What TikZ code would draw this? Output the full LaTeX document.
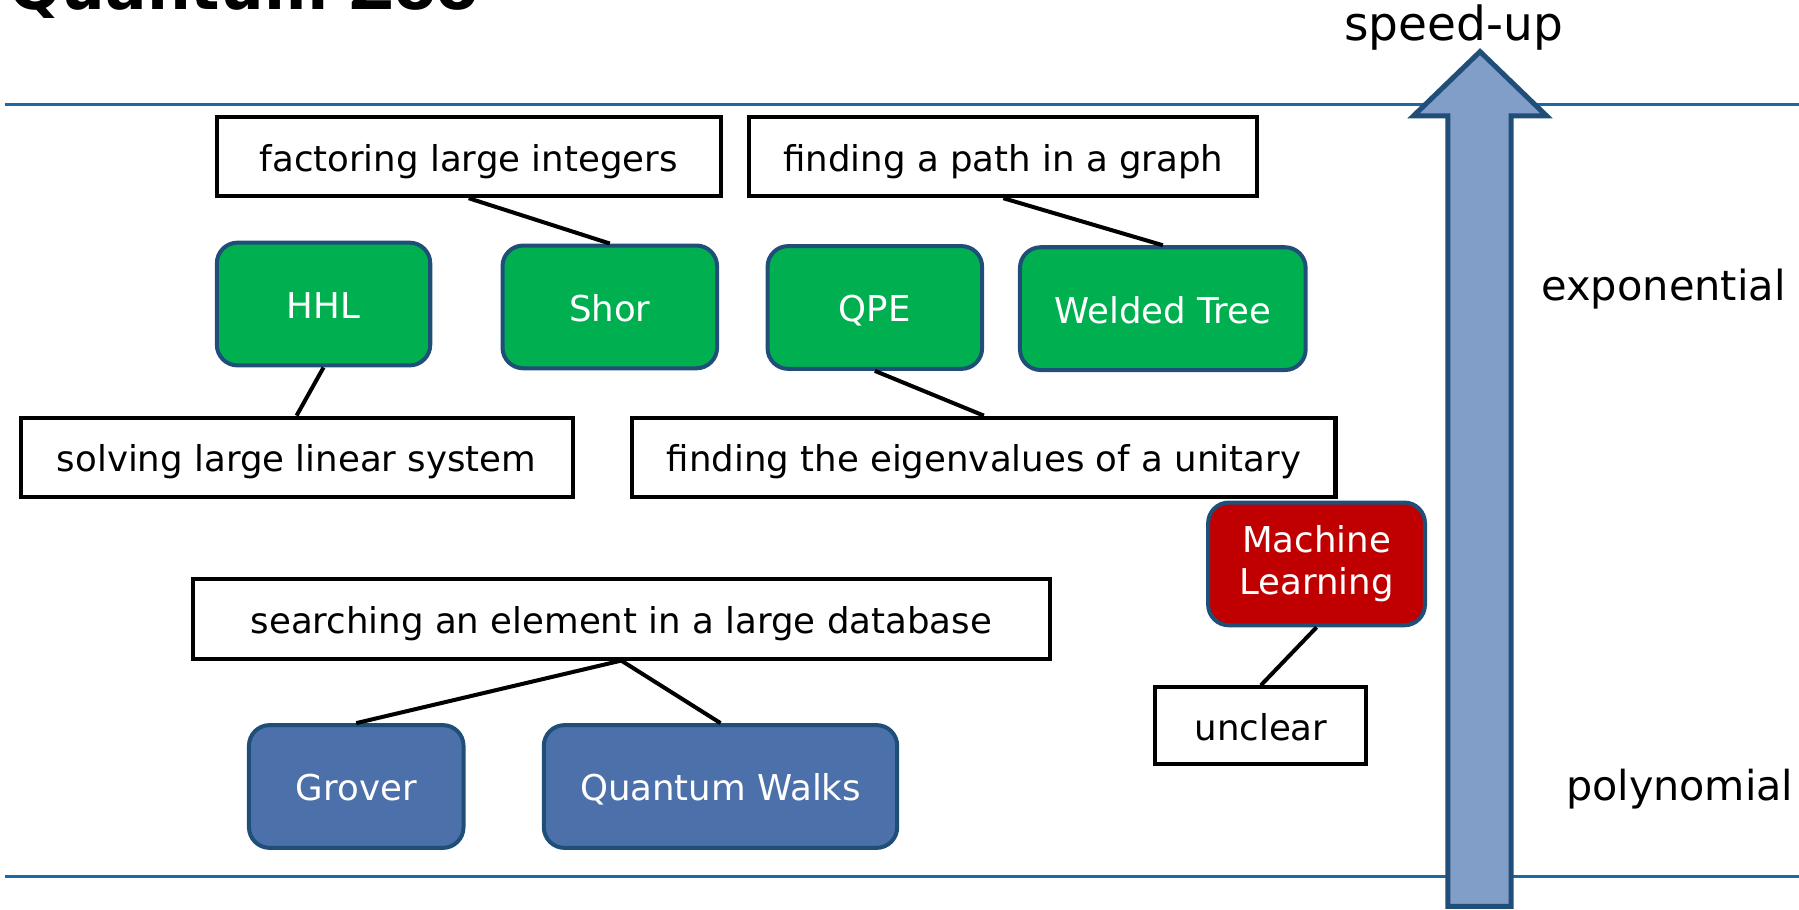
\documentclass[tikz,border=0pt]{standalone}
\usepackage{fontspec}
\setmainfont{DejaVu Sans}
\definecolor{rulecol}{RGB}{26,104,164}
\definecolor{nodeborder}{RGB}{31,78,121}
\definecolor{arrowfill}{RGB}{129,158,201}
\definecolor{greenfill}{RGB}{0,176,80}
\definecolor{bluefill}{RGB}{76,112,170}
\definecolor{redfill}{RGB}{192,0,0}
\tikzset{
  oneline/.style={text height=12.6pt, text depth=0pt},
  textbox/.style={draw=black, line width=1.75pt, fill=white, inner sep=0pt,
    minimum height=34.5pt, font=\fontsize{15.5}{18.5}\selectfont, oneline},
  algbox/.style={draw=nodeborder, line width=1.75pt, rounded corners=9pt, inner sep=0pt,
    minimum height=53.5pt, text=white, align=center, font=\fontsize{15.5}{18.5}\selectfont},
  link/.style={draw=black, line width=1.75pt},
  hrule/.style={draw=rulecol, line width=1pt}
}
\begin{document}
\begin{tikzpicture}[x=0.5pt, y=-0.5pt]
\useasboundingbox (0,0) rectangle (1568,793);
\clip (0,0) rectangle (1568,793);
% title (cut off at top)
\node[anchor=base west, inner sep=0pt, font=\fontsize{26.8}{30}\selectfont\bfseries] (title) at (8,8.5) {Quantum Zoo};
% horizontal rules
\coordinate (tl) at (4,91);
\coordinate (tr) at (1568,91);
\coordinate (bl) at (4,764);
\coordinate (br) at (1568,764);
\draw[hrule] (tl) -- (tr);
\draw[hrule] (bl) -- (br);
% speed-up arrow
\draw[draw=nodeborder, fill=arrowfill, line width=2.2pt, line join=miter]
  (1262,790) -- (1262,101) -- (1232,101) -- (1290,45) -- (1348,101) -- (1317,101) -- (1317,790) -- cycle;
\node[anchor=base, inner sep=0pt, font=\fontsize{20.5}{24}\selectfont] (speedup) at (1267,35) {speed-up};
\node[anchor=base, inner sep=0pt, font=\fontsize{18.1}{22}\selectfont] (expo) at (1450,261.5) {exponential};
\node[anchor=base, inner sep=0pt, font=\fontsize{18}{22}\selectfont] (poly) at (1464,698) {polynomial};
% text boxes
\node[textbox, minimum width=219.5pt] (factor) at (408.5,136.5) {factoring large integers};
\node[textbox, minimum width=221.5pt] (path) at (874.5,136.5) {finding a path in a graph};
\node[textbox, minimum width=240.5pt] (solve) at (258.5,398.5) {solving large linear system};
\node[textbox, minimum width=306.5pt] (eigen) at (857.5,398.5) {finding the eigenvalues of a unitary};
\node[textbox, minimum width=373.5pt] (search) at (541.5,539.5) {searching an element in a large database};
\node[textbox, minimum width=92pt, minimum height=33.5pt] (unclear) at (1099,632.5) {unclear};
% algorithm nodes
\node[algbox, oneline, fill=greenfill, minimum width=93pt] (hhl) at (282,265) {HHL};
\node[algbox, oneline, fill=greenfill, minimum width=93.5pt] (shor) at (531.5,267.5) {Shor};
\node[algbox, oneline, fill=greenfill, minimum width=93.5pt] (qpe) at (762.5,268) {QPE};
\node[algbox, oneline, fill=greenfill, minimum width=124.5pt] (welded) at (1013.5,269) {Welded Tree};
\node[algbox, fill=redfill, minimum width=94.5pt] (ml) at (1147.5,491.5) {Machine\\Learning};
\node[algbox, oneline, fill=bluefill, minimum width=93.5pt] (grover) at (310.5,685.5) {Grover};
\node[algbox, oneline, fill=bluefill, minimum width=154pt] (qwalks) at (628,685.5) {Quantum Walks};
% connectors
\draw[link] (factor.south) -- (shor.north);
\draw[link] (path.south) -- (welded.north);
\draw[link] (hhl.south) -- (solve.north);
\draw[link] (qpe.south) -- (eigen.north);
\draw[link] (ml.south) -- (unclear.north);
\draw[link] (search.south) -- (grover.north);
\draw[link] (search.south) -- (qwalks.north);
\end{tikzpicture}
\end{document}
